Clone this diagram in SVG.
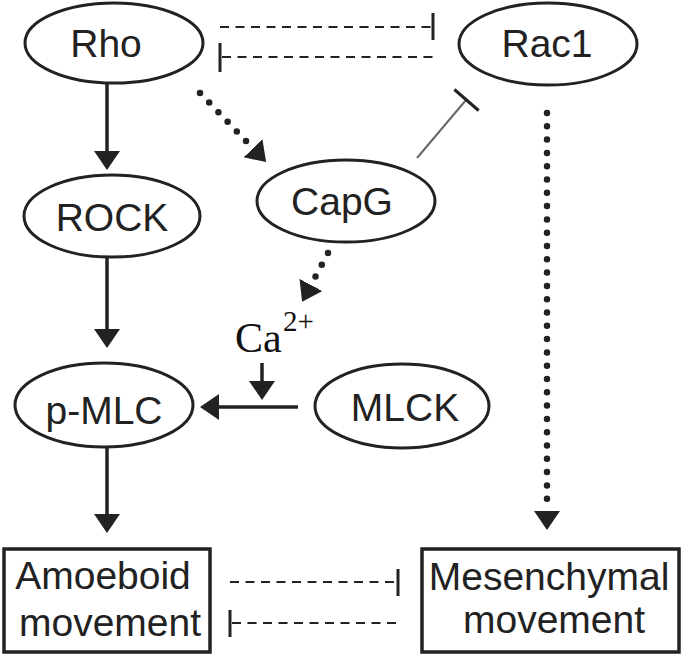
<svg xmlns="http://www.w3.org/2000/svg" width="685" height="655" viewBox="0 0 685 655">
<style>
.node{fill:#fff;stroke:#222;stroke-width:3}
.box{fill:#fff;stroke:#222;stroke-width:3.5}
.lbl{font-family:"Liberation Sans",Arial,sans-serif;font-size:39px;fill:#222;text-anchor:middle}
.ca{font-family:"Liberation Serif","Times New Roman",serif;fill:#111}
.solid{stroke:#222;stroke-width:3.5;fill:none}
.dot{stroke:#222;stroke-width:6.5;stroke-linecap:round;stroke-dasharray:0 13.3;fill:none}
.dash{stroke:#222;stroke-width:2;stroke-dasharray:9 6.5;fill:none}
.bar{stroke:#222;stroke-width:3;fill:none}
</style>
<defs>
<marker id="ah" viewBox="0 -14 20 28" markerWidth="20" markerHeight="28" refX="0" refY="0" orient="auto" markerUnits="userSpaceOnUse">
<path d="M0,-13 L19,0 L0,13 Z" fill="#222"/>
</marker>
</defs>
<g id="connectors">
<line class="solid" x1="107" y1="83" x2="107" y2="151" marker-end="url(#ah)"/>
<line class="solid" x1="107" y1="257" x2="107" y2="329" marker-end="url(#ah)"/>
<line class="solid" x1="107" y1="448" x2="107" y2="514" marker-end="url(#ah)"/>
<line class="solid" x1="262" y1="363" x2="262" y2="381" marker-end="url(#ah)"/>
<line class="solid" x1="298" y1="407" x2="219" y2="407" marker-end="url(#ah)"/>
<line class="dot" x1="547" y1="113" x2="547" y2="511" marker-end="url(#ah)"/>
<line class="dot" x1="200" y1="93" x2="253" y2="148.3" marker-end="url(#ah)"/>
<line class="dot" x1="328" y1="253" x2="311" y2="285" marker-end="url(#ah)"/>
<line x1="417" y1="158" x2="466" y2="100" stroke="#666" stroke-width="2"/>
<line class="bar" x1="454.4" y1="89.5" x2="478.6" y2="110.5"/>
<line class="dash" x1="220" y1="27" x2="432" y2="27"/>
<line class="bar" x1="433" y1="13" x2="433" y2="40"/>
<line class="dash" x1="222" y1="57" x2="433" y2="57"/>
<line class="bar" x1="220" y1="43" x2="220" y2="72"/>
<line class="dash" x1="230" y1="582" x2="397" y2="582"/>
<line class="bar" x1="398" y1="569" x2="398" y2="596"/>
<line class="dash" x1="232" y1="623" x2="398" y2="623"/>
<line class="bar" x1="230" y1="610" x2="230" y2="637"/>
</g>
<g id="Rho"><ellipse class="node" cx="114" cy="43" rx="89" ry="40"/><text class="lbl" x="106" y="57">Rho</text></g>
<g id="Rac1"><ellipse class="node" cx="548" cy="44" rx="89" ry="41"/><text class="lbl" x="547" y="57">Rac1</text></g>
<g id="ROCK"><ellipse class="node" cx="112" cy="216" rx="88" ry="41"/><text class="lbl" x="112" y="231">ROCK</text></g>
<g id="CapG"><ellipse class="node" cx="346" cy="201" rx="89" ry="41"/><text class="lbl" x="342" y="215">CapG</text></g>
<g id="Ca"><text class="ca" x="235" y="352" font-size="42">Ca</text><text class="ca" x="283" y="331" font-size="29">2+</text></g>
<g id="pMLC"><ellipse class="node" cx="104" cy="405" rx="89" ry="42"/><text class="lbl" x="104" y="424">p-MLC</text></g>
<g id="MLCK"><ellipse class="node" cx="402" cy="406" rx="87" ry="42"/><text class="lbl" x="405" y="421">MLCK</text></g>
<g id="Amoeboid"><rect class="box" x="4" y="549" width="206" height="103"/><text class="lbl" x="103" y="589">Amoeboid</text><text class="lbl" x="110" y="636">movement</text></g>
<g id="Mesenchymal"><rect class="box" x="422" y="549" width="257" height="103"/><text class="lbl" x="549" y="590">Mesenchymal</text><text class="lbl" x="554" y="633">movement</text></g>
</svg>
